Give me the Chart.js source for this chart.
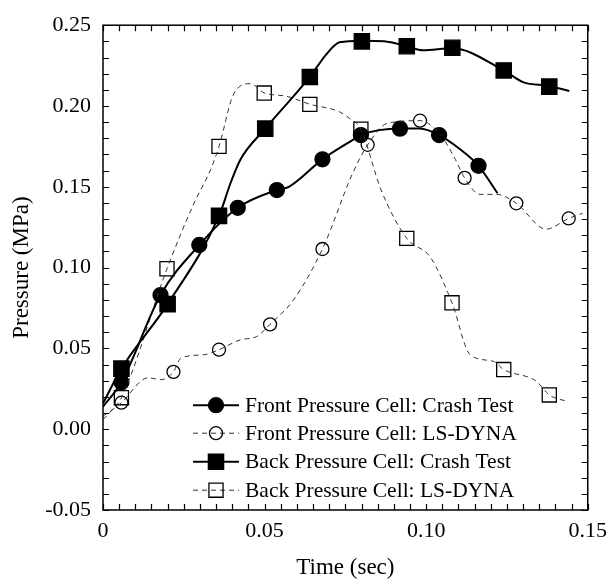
<!DOCTYPE html>
<html lang="en">
<head>
  <meta charset="UTF-8">
  <title>Pressure vs Time</title>
  <style>
    html, body { margin: 0; padding: 0; background: #fff; }
    canvas { display: block; }
  </style>
</head>
<body>
  <canvas id="myChart" width="615" height="583"></canvas>
  <script src="https://cdn.jsdelivr.net/npm/chart.js"></script>
  <script>
    // tick labels
    const xTickLabels = ['0', '0.05', '0.10', '0.15'];
    const yTickLabels = ['-0.05', '0.00', '0.05', '0.10', '0.15', '0.20', '0.25'];

    const seriesNames = [
      'Front Pressure Cell: Crash Test',
      'Front Pressure Cell: LS-DYNA',
      'Back Pressure Cell: Crash Test',
      'Back Pressure Cell: LS-DYNA'
    ];

    // Front cell, crash test: marked samples and the traced curve
    const frontTestT = [0.0057, 0.0178, 0.0298, 0.0417, 0.0538, 0.0679, 0.0798, 0.0919, 0.104, 0.1162];
    const frontTestP = [0.029, 0.083, 0.114, 0.137, 0.148, 0.167, 0.182, 0.186, 0.182, 0.163];
    const frontTestCurveT = [0, 0.0057, 0.0178, 0.0298, 0.0417, 0.0538, 0.0575, 0.0679, 0.0773, 0.0798, 0.0919, 0.098, 0.104, 0.110, 0.1162, 0.1221];
    const frontTestCurveP = [0.014, 0.029, 0.083, 0.114, 0.137, 0.148, 0.150, 0.167, 0.179, 0.182, 0.186, 0.186, 0.182, 0.174, 0.163, 0.146];

    // Front cell, LS-DYNA
    const frontDynaT = [0.0057, 0.0218, 0.0359, 0.0517, 0.0679, 0.0819, 0.0981, 0.1119, 0.1279, 0.1441];
    const frontDynaP = [0.0164, 0.0355, 0.0492, 0.0649, 0.1115, 0.176, 0.1909, 0.1555, 0.1398, 0.1304];
    const frontDynaCurveT = [0, 0.0057, 0.0139, 0.018, 0.0218, 0.0241, 0.0313, 0.0359, 0.0425, 0.0476, 0.0517, 0.0589, 0.0679, 0.0773, 0.0819, 0.088, 0.0981, 0.1045, 0.109, 0.1119, 0.1167, 0.1218, 0.1279, 0.1371, 0.1441, 0.1484];
    const frontDynaCurveP = [0.008, 0.0164, 0.0318, 0.0307, 0.0355, 0.044, 0.0461, 0.0492, 0.0553, 0.0574, 0.0649, 0.0799, 0.1115, 0.1586, 0.176, 0.1893, 0.1909, 0.182, 0.167, 0.1555, 0.1453, 0.1453, 0.1398, 0.1238, 0.1304, 0.1336];

    // Back cell, crash test
    const backTestT = [0.0057, 0.020, 0.0359, 0.0502, 0.064, 0.0801, 0.094, 0.1081, 0.124, 0.1381];
    const backTestP = [0.0375, 0.0774, 0.132, 0.186, 0.218, 0.240, 0.237, 0.236, 0.222, 0.212];
    const backTestCurveT = [0, 0.0057, 0.020, 0.0359, 0.0395, 0.0425, 0.0502, 0.064, 0.0691, 0.0732, 0.0801, 0.087, 0.094, 0.099, 0.1081, 0.124, 0.130, 0.1381, 0.1443];
    const backTestCurveP = [0.016, 0.0375, 0.0774, 0.132, 0.1525, 0.1668, 0.186, 0.218, 0.232, 0.2394, 0.2404, 0.240, 0.237, 0.2345, 0.2357, 0.222, 0.2148, 0.2124, 0.2093];

    // Back cell, LS-DYNA
    const backDynaT = [0.0057, 0.0198, 0.0359, 0.0499, 0.064, 0.0798, 0.094, 0.108, 0.124, 0.1381];
    const backDynaP = [0.0195, 0.0993, 0.175, 0.208, 0.201, 0.1856, 0.1181, 0.0782, 0.0369, 0.0212];
    const backDynaCurveT = [0, 0.0016, 0.0057, 0.0198, 0.0282, 0.0333, 0.0359, 0.0405, 0.0456, 0.0499, 0.0568, 0.064, 0.0732, 0.0763, 0.0798, 0.086, 0.094, 0.1013, 0.108, 0.1136, 0.1208, 0.124, 0.134, 0.1381, 0.1438];
    const backDynaCurveP = [0.006, 0.0093, 0.0195, 0.0993, 0.140, 0.1606, 0.175, 0.2077, 0.2138, 0.2081, 0.206, 0.2011, 0.1964, 0.1923, 0.1856, 0.1483, 0.1181, 0.1064, 0.0782, 0.0461, 0.042, 0.0369, 0.0298, 0.0212, 0.0171];

    const pts = (xs, ys) => xs.map((x, i) => ({ x: x, y: ys[i] }));

    const serif = "'Liberation Serif', 'Times New Roman', serif";

    // look of each series: line + marker
    const styles = [
      { dash: [], width: 2, color: '#000', pointStyle: 'circle', radius: 7.5, fill: '#000' },
      { dash: [5, 4], width: 1, color: '#333', pointStyle: 'circle', radius: 6.5, fill: 'rgba(0,0,0,0)' },
      { dash: [], width: 2, color: '#000', pointStyle: 'rect', radius: 10.8, fill: '#000' },
      { dash: [5, 4], width: 1, color: '#333', pointStyle: 'rect', radius: 10, fill: 'rgba(0,0,0,0)' }
    ];

    const curves = [
      pts(frontTestCurveT, frontTestCurveP),
      pts(frontDynaCurveT, frontDynaCurveP),
      pts(backTestCurveT, backTestCurveP),
      pts(backDynaCurveT, backDynaCurveP)
    ];
    const markers = [
      pts(frontTestT, frontTestP),
      pts(frontDynaT, frontDynaP),
      pts(backTestT, backTestP),
      pts(backDynaT, backDynaP)
    ];

    const datasets = [];
    styles.forEach((s, i) => {
      datasets.push({
        label: seriesNames[i],
        data: curves[i],
        borderColor: s.color,
        borderWidth: s.width,
        borderDash: s.dash,
        pointRadius: 0,
        cubicInterpolationMode: 'monotone',
        fill: false
      });
    });
    styles.forEach((s, i) => {
      datasets.push({
        label: seriesNames[i] + ' markers',
        data: markers[i],
        showLine: false,
        pointStyle: s.pointStyle,
        pointRadius: s.radius,
        pointBackgroundColor: s.fill,
        pointBorderColor: '#000',
        pointBorderWidth: 1.3
      });
    });

    // inward ticks on all four sides plus the frame
    const frameTicks = {
      id: 'frameTicks',
      afterDraw(chart) {
        const { ctx, chartArea: a, scales: { x, y } } = chart;
        const len = 6;
        ctx.save();
        ctx.strokeStyle = '#000';
        ctx.lineWidth = 1.2;
        ctx.beginPath();
        x.ticks.forEach(t => {
          const px = Math.round(x.getPixelForValue(t.value)) + 0.5;
          ctx.moveTo(px, a.bottom); ctx.lineTo(px, a.bottom - len);
          ctx.moveTo(px, a.top); ctx.lineTo(px, a.top + len);
        });
        y.ticks.forEach(t => {
          const py = Math.round(y.getPixelForValue(t.value)) + 0.5;
          ctx.moveTo(a.left, py); ctx.lineTo(a.left + len, py);
          ctx.moveTo(a.right, py); ctx.lineTo(a.right - len, py);
        });
        ctx.stroke();
        ctx.lineWidth = 1.5;
        ctx.strokeRect(a.left, a.top, a.right - a.left, a.bottom - a.top);
        ctx.restore();
      }
    };

    // legend drawn inside the plot area
    const innerLegend = {
      id: 'innerLegend',
      afterDraw(chart) {
        const { ctx, chartArea: a } = chart;
        const x0 = a.left + 90, x1 = a.left + 136, xm = (x0 + x1) / 2;
        const rowY = [a.top + 380, a.top + 408, a.top + 436.5, a.top + 465];
        ctx.save();
        ctx.font = '21.5px ' + serif;
        ctx.textBaseline = 'middle';
        ctx.textAlign = 'left';
        styles.forEach((s, i) => {
          const yy = rowY[i];
          ctx.strokeStyle = s.color;
          ctx.lineWidth = s.width;
          ctx.setLineDash(s.dash);
          ctx.beginPath();
          ctx.moveTo(x0, yy); ctx.lineTo(x1, yy);
          ctx.stroke();
          ctx.setLineDash([]);
          ctx.fillStyle = s.fill;
          ctx.strokeStyle = '#000';
          ctx.lineWidth = 1.3;
          Chart.helpers.drawPoint(ctx, { pointStyle: s.pointStyle, radius: s.radius, borderWidth: 1.3, rotation: 0 }, xm, yy);
          ctx.fillStyle = '#000';
          ctx.fillText(seriesNames[i], x1 + 6, yy + 1);
        });
        ctx.restore();
      }
    };

    const labelAt = (list, start, value) => {
      const k = Math.round((value - start) / 0.05);
      return Math.abs(value - (start + k * 0.05)) < 1e-6 ? list[k] : '';
    };

    new Chart(document.getElementById('myChart'), {
      type: 'line',
      data: { datasets: datasets },
      options: {
        responsive: false,
        animation: false,
        events: [],
        layout: { padding: { top: 21, right: 23, left: 0, bottom: 0 } },
        plugins: { legend: { display: false }, tooltip: { enabled: false } },
        scales: {
          x: {
            type: 'linear',
            min: 0,
            max: 0.15,
            grid: { display: false, drawTicks: false },
            border: { display: false },
            ticks: {
              stepSize: 0.005,
              autoSkip: false,
              maxRotation: 0,
              padding: 8,
              color: '#000',
              font: { family: serif, size: 22 },
              callback: v => labelAt(xTickLabels, 0, v)
            },
            title: {
              display: true,
              text: 'Time (sec)',
              color: '#000',
              font: { family: serif, size: 23 },
              padding: { top: 0, bottom: 1 }
            },
            afterFit: s => { s.height = 73; }
          },
          y: {
            min: -0.05,
            max: 0.25,
            grid: { display: false, drawTicks: false },
            border: { display: false },
            ticks: {
              stepSize: 0.01,
              autoSkip: false,
              padding: 12,
              color: '#000',
              font: { family: serif, size: 22 },
              callback: v => labelAt(yTickLabels, -0.05, v)
            },
            title: {
              display: true,
              text: 'Pressure (MPa)',
              color: '#000',
              font: { family: serif, size: 23 },
              padding: { top: 8, bottom: 0 }
            },
            afterFit: s => { s.width = 103; }
          }
        }
      },
      plugins: [frameTicks, innerLegend]
    });
  </script>
</body>
</html>
